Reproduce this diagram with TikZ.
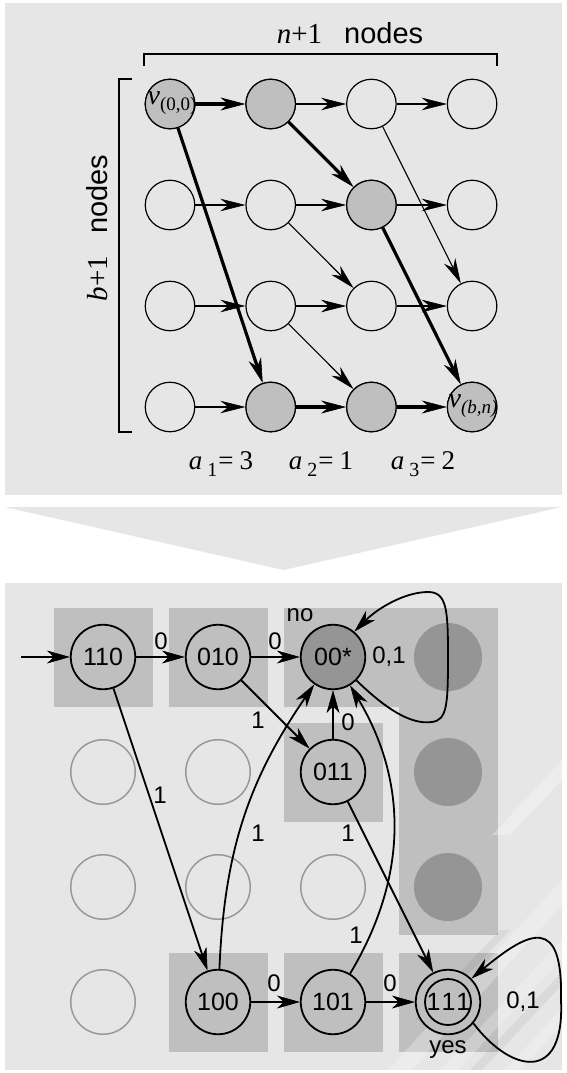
\documentclass[tikz,border=0pt]{standalone}
\usepackage{fontspec}
\setmainfont{Liberation Sans}
\newfontfamily\tms{Liberation Serif}
\usetikzlibrary{arrows.meta}
\definecolor{bgg}{gray}{0.902}
\definecolor{midg}{gray}{0.75}
\definecolor{darkg}{gray}{0.585}
\definecolor{ghost}{gray}{0.6}
\begin{document}
\begin{tikzpicture}[x=1pt,y=-1pt,
  tn/.style={circle,draw,line width=1.2pt,minimum size=49.5pt,inner sep=0pt},
  tg/.style={tn,fill=midg},
  tarr/.style={line width=1.1pt,-{Stealth[length=25pt,width=12.5pt,inset=8pt,line width=0.6pt]}},
  Tarr/.style={line width=3.2pt,-{Stealth[length=25pt,width=13pt,inset=8pt,line width=0.6pt]}},
  sn/.style={circle,draw,line width=1.8pt,minimum size=64.5pt,inner sep=0pt,fill=midg,font=\fontsize{25}{25}\selectfont},
  gc/.style={circle,draw=ghost,line width=1.5pt,minimum size=64.5pt,inner sep=0pt},
  gd/.style={circle,fill=darkg,minimum size=68pt,inner sep=0pt},
  ed/.style={line width=1.8pt,-{Stealth[length=23pt,width=13pt,inset=7pt,line width=0.6pt]}},
  lb/.style={font=\fontsize{24}{24}\selectfont,inner sep=0pt},
  sq/.style={fill=midg},
]
\useasboundingbox (0,0) rectangle (566,1073);
\fill[white] (0,0) rectangle (566,1073);
% ---------- top panel ----------
\fill[bgg] (5,3) rectangle (562,495);
\foreach \r in {0,1,2,3}{\foreach \c in {0,1,2,3}{
  \node[tn] (t\r\c) at ({170+100.7*\c},{104+101*\r}) {};}}
\foreach \n in {00,01,12,31,32,33}{\node[tg] at (t\n) {};}
% brackets
\draw[line width=1.2pt] (144,66) -- (144,54) -- (497,54) -- (497,66);
\draw[line width=1.2pt] (132,79) -- (119,79) -- (119,432) -- (132,432);
\node[inner sep=0pt] (ntext) at (350,33) {\fontsize{29}{29}\selectfont{\tms\itshape n}{\tms +1}\hspace{22pt}nodes};
\node[inner sep=0pt,rotate=90] (btext) at (97,228) {\fontsize{29}{29}\selectfont{\tms\itshape b}{\tms +1}\hspace{22pt}nodes};
% edges
\draw[Tarr] (t00) -- (t01);
\draw[tarr] (t01) -- (t02);
\draw[tarr] (t02) -- (t03);
\draw[tarr] (t10) -- (t11);
\draw[tarr] (t11) -- (t12);
\draw[tarr] (t12) -- (t13);
\draw[tarr] (t20) -- (t21);
\draw[tarr] (t21) -- (t22);
\draw[tarr] (t22) -- (t23);
\draw[tarr] (t30) -- (t31);
\draw[Tarr] (t31) -- (t32);
\draw[Tarr] (t32) -- (t33);
\draw[Tarr] (t00) -- (t31);
\draw[Tarr] (t01) -- (t12);
\draw[Tarr] (t12) -- (t33);
\draw[tarr] (t02) -- (t23);
\draw[tarr] (t11) -- (t22);
\draw[tarr] (t21) -- (t32);
\node[inner sep=0pt] (v00) at (172,103) {\tms\fontsize{28}{28}\selectfont\itshape v\upshape\raisebox{-6pt}{\fontsize{19}{19}\selectfont (0,0)}};
\node[inner sep=0pt] (vbn) at (473,406) {\tms\fontsize{28}{28}\selectfont\itshape v\raisebox{-6pt}{\fontsize{19}{19}\selectfont (b,n)}};
\foreach \i/\v/\x in {1/3/221,2/1/321,3/2/423}{
  \node[inner sep=0pt] (a\i) at (\x,464) {\tms\fontsize{27}{27}\selectfont\itshape a\upshape\hspace{5pt}\raisebox{-7pt}{\fontsize{20}{20}\selectfont \i}\hspace{1pt}=\hspace{6pt}\v};}
% ---------- chevron ----------
\fill[bgg] (5,507) -- (562,507) -- (283.5,570) -- cycle;
% ---------- bottom panel ----------
\fill[bgg] (5,583) rectangle (562,1070);
% squares
\fill[sq] (53.5,607.5) rectangle (152.5,706.5);
\fill[sq] (168.5,607.5) rectangle (267.5,706.5);
\fill[sq] (283.5,607.5) rectangle (497.5,706.5);
\fill[sq] (398.5,607.5) rectangle (497.5,934.5);
\fill[sq] (283.5,722.5) rectangle (382.5,821.5);
\fill[sq] (168.5,952.5) rectangle (267.5,1051.5);
\fill[sq] (283.5,952.5) rectangle (382.5,1051.5);
\fill[sq] (398.5,952.5) rectangle (497.5,1051.5);
% ghost discs and circles
\node[gd] (g03) at (448,657) {};
\node[gd] (g13) at (448,772) {};
\node[gd] (g23) at (448,887) {};
\node[gc] (g10) at (103,772) {};
\node[gc] (g11) at (218,772) {};
\node[gc] (g20) at (103,887) {};
\node[gc] (g21) at (218,887) {};
\node[gc] (g22) at (333,887) {};
\node[gc] (g30) at (103,1002) {};
% watermark
\begin{scope}
\clip (5,583) rectangle (562,1070);
\fill[white,opacity=0.28] (388,1070) -- (412,1070) -- (562,905) -- (562,880) -- cycle;
\fill[white,opacity=0.22] (440,1070) -- (458,1070) -- (562,958) -- (562,940) -- cycle;
\fill[white,opacity=0.28] (505,1070) -- (520,1070) -- (562,1025) -- (562,1008) -- cycle;
\fill[white,opacity=0.3] (492,835) -- (510,835) -- (562,780) -- (562,760) -- cycle;
\fill[black,opacity=0.05] (470,1070) -- (482,1070) -- (562,985) -- (562,972) -- cycle;
\fill[black,opacity=0.05] (415,1020) -- (425,1020) -- (510,930) -- (500,930) -- cycle;
\end{scope}
% states
\node[sn] (s110) at (103,657) {110};
\node[sn] (s010) at (218,657) {010};
\node[sn,fill=darkg] (s00) at (333,657) {00*};
\node[sn] (s011) at (333,772) {011};
\node[sn] (s100) at (218,1002) {100};
\node[sn] (s101) at (333,1002) {101};
\node[sn] (s111) at (448,1002) {\hspace{1pt}1\hspace{1pt}1\hspace{1pt}1\hspace{1pt}};
\draw[line width=1.8pt] (s111.center) circle[radius=23];
\coordinate (init) at (21,657);
% transitions
\draw[ed] (init) -- (s110);
\draw[ed] (s110) -- (s010);
\draw[ed] (s010) -- (s00);
\draw[ed] (s010) -- (s011);
\draw[ed] (s011) -- (s00);
\draw[ed] (s110) -- (s100);
\draw[ed] (s100) to[bend left=16] (s00);
\draw[ed] (s101) to[bend right=31] (s00);
\draw[ed] (s011) -- (s111);
\draw[ed] (s100) -- (s101);
\draw[ed] (s101) -- (s111);
\draw[ed] (s00.-45) .. controls (385,708) and (410,725) .. (432,722) .. controls (447,720) and (448,705) .. (448,657) .. controls (448,610) and (447,592) .. (428,592) .. controls (405,592) and (378,608) .. (s00.50);
\draw[ed] (s111.-40) .. controls (510,1072) and (565,1085) .. (561,1000) .. controls (563,915) and (530,930) .. (s111.45);
% labels
\node[lb] (l1) at (161,641) {0};
\node[lb] (l2) at (275,641) {0};
\node[lb] (lno) at (300,615) {no};
\node[lb] (l00) at (389,657) {0,1};
\node[lb] (l3) at (258,720) {1};
\node[lb] (l4) at (348,722) {0};
\node[lb] (l5) at (160,795) {1};
\node[lb] (l6) at (258,833) {1};
\node[lb] (l7) at (348,833) {1};
\node[lb] (l8) at (356,935) {1};
\node[lb] (l9) at (274,983) {0};
\node[lb] (l10) at (390,983) {0};
\node[lb] (l11) at (523,1002) {0,1};
\node[lb] (lyes) at (448,1050) {yes};
\end{tikzpicture}
\end{document}
